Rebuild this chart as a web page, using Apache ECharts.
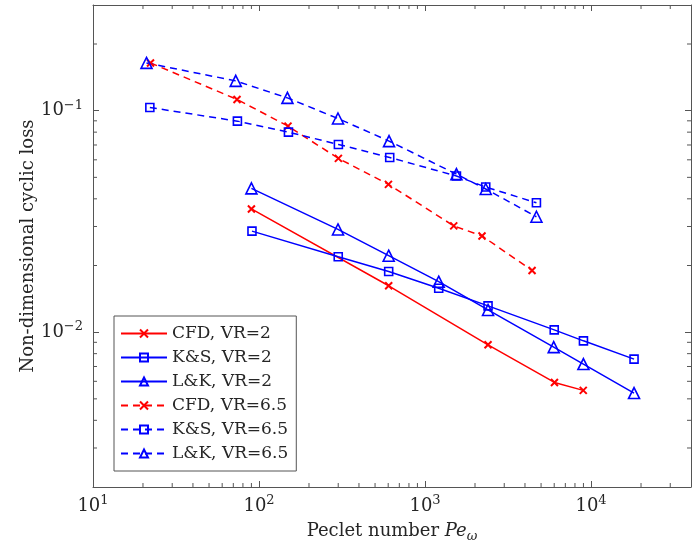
<!DOCTYPE html>
<html>
<head>
<meta charset="utf-8">
<script src="https://cdn.jsdelivr.net/npm/echarts@6/dist/echarts.min.js"></script>
<style>
  html, body { margin: 0; padding: 0; background: #fff; }
  #main { width: 697px; height: 546px; }
</style>
</head>
<body>
<div id="main"></div>
<script>
// 数据 (Peclet number, cyclic loss)
var cfd2Pe = [90, 604, 2396, 6020, 8975]
var cfd2Loss = [0.0360, 0.0162, 0.00877, 0.00593, 0.00546]
var ks2Pe = [90.7, 300, 604, 1209, 2396, 6000, 9000, 18155]
var ks2Loss = [0.0286, 0.0219, 0.0188, 0.0158, 0.01315, 0.01024, 0.00914, 0.00756]
var lk2Pe = [90, 299, 604, 1209, 2396, 5958, 8995, 18155]
var lk2Loss = [0.0446, 0.0291, 0.02215, 0.0169, 0.0126, 0.00856, 0.00718, 0.00531]
var cfd65Pe = [22.2, 73.7, 149.5, 300.7, 602, 1489, 2204, 4412]
var cfd65Loss = [0.1643, 0.1124, 0.0852, 0.0609, 0.0465, 0.0302, 0.0272, 0.0190]
var ks65Pe = [22, 74.1, 150.4, 300.7, 612.7, 1546, 2321, 4688]
var ks65Loss = [0.1034, 0.0897, 0.0800, 0.0704, 0.0615, 0.0507, 0.0452, 0.0384]
var lk65Pe = [21, 72.4, 148.3, 299, 607, 1546, 2321, 4688]
var lk65Loss = [0.1643, 0.1363, 0.1142, 0.0922, 0.0729, 0.0517, 0.0443, 0.0332]

var seriesNames = ['CFD, VR=2', 'K&S, VR=2', 'L&K, VR=2', 'CFD, VR=6.5', 'K&S, VR=6.5', 'L&K, VR=6.5']

// 次刻度
var xMinorTicks = [20, 30, 40, 50, 60, 70, 80, 90, 200, 300, 400, 500, 600, 700, 800, 900,
    2000, 3000, 4000, 5000, 6000, 7000, 8000, 9000, 20000, 30000]
var yMinorTicks = [0.003, 0.004, 0.005, 0.006, 0.007, 0.008, 0.009,
    0.02, 0.03, 0.04, 0.05, 0.06, 0.07, 0.08, 0.09, 0.2]

var RED = '#ff0000'
var BLUE = '#0000ff'
var AXIS = '#555555'
var TEXT = '#262626'
var FONT = 'DejaVu Serif'
var CROSS = 'path://M0,0L10,10M0,10L10,0'

function pairs(xs, ys) {
    return xs.map(function (x, i) { return [x, ys[i]] })
}

// 10^n 标签
function powLabel(value) {
    var e = Math.log10(value)
    if (Math.abs(e - Math.round(e)) > 1e-6) return ''
    var n = Math.round(e)
    return '{b|10}{s|' + (n < 0 ? '\u2212' + (-n) : n) + '}'
}

var labelRich = {
    b: { fontFamily: FONT, fontSize: 18, color: TEXT, lineHeight: 24 },
    s: { fontFamily: FONT, fontSize: 13, color: TEXT, lineHeight: 12, verticalAlign: 'top' }
}

function lineSeries(name, data, color, dashed, symbol, size) {
    return {
        name: name,
        type: 'line',
        xAxisIndex: 0,
        yAxisIndex: 0,
        data: data,
        symbol: symbol,
        symbolSize: size,
        showAllSymbol: true,
        lineStyle: { color: color, width: 1.5, type: dashed ? [7, 5] : 'solid' },
        itemStyle: { color: 'rgba(0,0,0,0)', borderColor: color, borderWidth: symbol === CROSS ? 2 : 1.6 },
        emphasis: { disabled: true },
        animation: false,
        z: 3
    }
}

var main = document.getElementById('main')
var myChart = echarts.init(main)

function commonX(pos, showLabel) {
    return {
        type: 'log',
        logBase: 10,
        min: 10,
        max: 40000,
        position: pos,
        axisLine: { show: true, lineStyle: { color: AXIS, width: 1 } },
        axisTick: { show: true, inside: true, length: 6, lineStyle: { color: AXIS } },
        splitLine: { show: false },
        axisLabel: {
            show: showLabel,
            margin: 7,
            formatter: powLabel,
            rich: labelRich
        }
    }
}
function commonY(pos, showLabel) {
    return {
        type: 'log',
        logBase: 10,
        min: 0.002,
        max: 0.3,
        position: pos,
        axisLine: { show: true, lineStyle: { color: AXIS, width: 1 } },
        axisTick: { show: true, inside: true, length: 6, lineStyle: { color: AXIS } },
        splitLine: { show: false },
        axisLabel: {
            show: showLabel,
            margin: 10,
            formatter: powLabel,
            rich: labelRich
        }
    }
}

var xBottom = commonX('bottom', true)
xBottom.name = 'Peclet number {i|Pe}{sub|\u03c9}'
xBottom.nameLocation = 'middle'
xBottom.nameGap = 32
xBottom.nameMoveOverlap = false
xBottom.nameTextStyle = {
    fontFamily: FONT, fontSize: 18, color: TEXT, lineHeight: 24,
    rich: {
        i: { fontFamily: FONT, fontSize: 18, fontStyle: 'italic', color: TEXT, lineHeight: 24 },
        sub: { fontFamily: FONT, fontSize: 13, fontStyle: 'italic', color: TEXT, lineHeight: 12, verticalAlign: 'bottom' }
    }
}
var yLeft = commonY('left', true)
yLeft.name = 'Non-dimensional cyclic loss'
yLeft.nameLocation = 'middle'
yLeft.nameGap = 56
yLeft.nameMoveOverlap = false
yLeft.nameTextStyle = { fontFamily: FONT, fontSize: 18, color: TEXT }

var option = {
    backgroundColor: '#ffffff',
    animation: false,
    grid: { left: 93, right: 6, top: 5, bottom: 59, containLabel: false, outerBoundsMode: 'none' },
    xAxis: [xBottom, commonX('top', false)],
    yAxis: [yLeft, commonY('right', false)],
    legend: {
        data: seriesNames,
        orient: 'vertical',
        left: 114,
        top: 316,
        itemWidth: 46,
        itemHeight: 10,
        itemGap: 7,
        padding: [9, 8, 9, 6],
        backgroundColor: '#ffffff',
        borderColor: AXIS,
        borderWidth: 1,
        selectedMode: false,
        textStyle: { fontFamily: FONT, fontSize: 17, color: TEXT, lineHeight: 16 }
    },
    series: [
        lineSeries(seriesNames[0], pairs(cfd2Pe, cfd2Loss), RED, false, CROSS, 7),
        lineSeries(seriesNames[1], pairs(ks2Pe, ks2Loss), BLUE, false, 'rect', 8),
        lineSeries(seriesNames[2], pairs(lk2Pe, lk2Loss), BLUE, false, 'triangle', 11),
        lineSeries(seriesNames[3], pairs(cfd65Pe, cfd65Loss), RED, true, CROSS, 7),
        lineSeries(seriesNames[4], pairs(ks65Pe, ks65Loss), BLUE, true, 'rect', 8),
        lineSeries(seriesNames[5], pairs(lk65Pe, lk65Loss), BLUE, true, 'triangle', 11),
        {
            // 次刻度 (上下)
            type: 'custom',
            silent: true,
            xAxisIndex: 0,
            yAxisIndex: 0,
            data: xMinorTicks.map(function (v) { return [v, 0.01] }),
            renderItem: function (params, api) {
                var cs = params.coordSys
                var px = api.coord([api.value(0), api.value(1)])[0]
                var st = { stroke: AXIS, lineWidth: 1 }
                return {
                    type: 'group',
                    children: [
                        { type: 'line', shape: { x1: px, y1: cs.y + cs.height, x2: px, y2: cs.y + cs.height - 4 }, style: st },
                        { type: 'line', shape: { x1: px, y1: cs.y, x2: px, y2: cs.y + 4 }, style: st }
                    ]
                }
            },
            z: 1
        },
        {
            // 次刻度 (左右)
            type: 'custom',
            silent: true,
            xAxisIndex: 0,
            yAxisIndex: 0,
            data: yMinorTicks.map(function (v) { return [100, v] }),
            renderItem: function (params, api) {
                var cs = params.coordSys
                var py = api.coord([api.value(0), api.value(1)])[1]
                var st = { stroke: AXIS, lineWidth: 1 }
                return {
                    type: 'group',
                    children: [
                        { type: 'line', shape: { x1: cs.x, y1: py, x2: cs.x + 4, y2: py }, style: st },
                        { type: 'line', shape: { x1: cs.x + cs.width, y1: py, x2: cs.x + cs.width - 4, y2: py }, style: st }
                    ]
                }
            },
            z: 1
        }
    ]
}
myChart.setOption(option)
</script>
</body>
</html>
